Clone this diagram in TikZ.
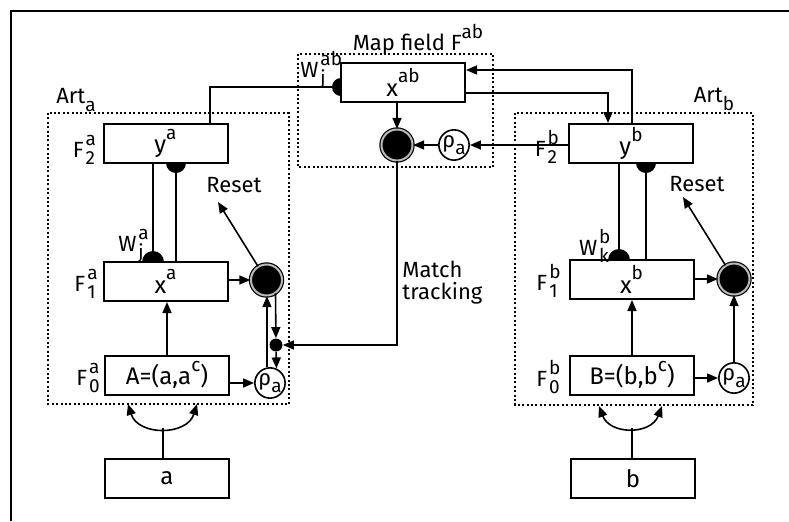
\documentclass[tikz,border=0pt]{standalone}
\usepackage{fontspec}
\setmainfont{Fira Sans}
\usetikzlibrary{arrows.meta}
\usetikzlibrary{positioning}

\newcommand{\up}[1]{\raisebox{1.05ex}{\fontsize{9.5}{9.5}\selectfont #1}}
\newcommand{\dn}[1]{\raisebox{-0.65ex}{\fontsize{9.5}{9.5}\selectfont #1}}
\newcommand{\sps}[3]{#1\hspace{1pt}\makebox[0pt][l]{\up{#2}}\dn{#3}}

\begin{document}
\begin{tikzpicture}[
  x=0.5pt, y=-0.5pt,
  every node/.style={font=\fontsize{11}{11}\selectfont},
  layer/.style={draw, line width=1pt, fill=white, minimum width=62pt, minimum height=19.5pt, inner sep=0pt, font=\fontsize{12}{12}\selectfont},
  orient/.style={circle, draw, line width=0.6pt, double=gray!55, double distance=1pt, fill=black, minimum size=15.5pt, inner sep=0pt},
  vig/.style={circle, draw, line width=0.8pt, fill=white, minimum size=14.5pt, inner sep=0pt},
  junc/.style={circle, fill, minimum size=6.5pt, inner sep=0pt},
  module/.style={draw, line width=1pt, dash pattern=on 1pt off 1.2pt},
  tag/.style={inner sep=0pt},
  title/.style={inner sep=0pt, font=\fontsize{11}{11}\selectfont},
  link/.style={line width=0.8pt},
]
\tikzset{>={Triangle[length=5.5pt, width=4.5pt]}}
\useasboundingbox (0,0) rectangle (789,521);

  % Frame and modules
  \draw[line width=1pt] (11,521) -- (11,11) -- (789,11);
  \draw[module] (48,113) rectangle (289,404);
  \draw[module] (515,113) rectangle (753,405);
  \draw[module] (298,54) rectangle (493,167);

  % Nodes
  \node[layer] (ya)  at (165.5,143.5) {y\up{a}};
  \node[layer] (xa)  at (165.5,281.5) {x\up{a}};
  \node[layer] (Aa)  at (167,375)     {A=(a,a\up{c})};
  \node[layer] (ina) at (167,478.5)   {a};
  \node[layer] (xab) at (403,82.5)    {x\up{ab}};
  \node[layer] (yb)  at (631,143.5)   {y\up{b}};
  \node[layer] (xb)  at (631.5,279.5) {x\up{b}};
  \node[layer] (Bb)  at (632,375)     {B=(b,b\up{c})};
  \node[layer] (inb) at (633,478.5)   {b};

  \node[orient] (oa)   at (266.5,280) {};
  \node[vig]    (ra)   at (270,383)   {ρ\dn{a}};
  \node[junc]   (junc) at (276,345)   {};
  \node[orient] (omap) at (397,145)   {};
  \node[vig]    (rmap) at (454,145)   {ρ\dn{a}};
  \node[orient] (ob)   at (734,279)   {};
  \node[vig]    (rb)   at (734,378)   {ρ\dn{a}};

  \coordinate (wja) at (153,262);
  \coordinate (wya) at (176,163);
  \coordinate (wkb) at (619,260);
  \coordinate (wyb) at (646,163);
  \coordinate (wab) at (341,87);
  \coordinate (rsta) at (218,202);
  \coordinate (rstb) at (683,197);
  \coordinate (splita) at (163,428);
  \coordinate (tipal) at (128,404);
  \coordinate (tipar) at (197,404);
  \coordinate (splitb) at (632,428);
  \coordinate (tipbl) at (599,406);
  \coordinate (tipbr) at (662,406);

  % Labels
  \node[title] at (76,100)  {Art\dn{a}};
  \node[title] at (714,99)  {Art\dn{b}};
  \node[title] at (418,40)  {Map field F\up{ab}};
  \node[tag] at (313,70)  {\sps{W}{ab}{j}};
  \node[tag] at (84,150)  {\sps{F}{a}{2}};
  \node[tag] at (85,284)  {\sps{F}{a}{1}};
  \node[tag] at (88,378)  {\sps{F}{a}{0}};
  \node[tag] at (131,246) {\sps{W}{a}{j}};
  \node[tag] at (546,147) {\sps{F}{b}{2}};
  \node[tag] at (547,281) {\sps{F}{b}{1}};
  \node[tag] at (548,377) {\sps{F}{b}{0}};
  \node[tag] at (594,246) {\sps{W}{b}{k}};
  \node[tag] at (234,185) {Reset};
  \node[tag] at (697,184) {Reset};
  \node[tag, anchor=west, align=left] at (402,283) {Match\\tracking};

  % Edges: Art a
  \draw[link,->] (Aa.north) -- (Aa.north |- xa.south);
  \draw[link,->] (Aa.east |- ra) -- (ra);
  \draw[link,->] (xa.east |- oa) -- (oa);
  \draw[link,->] (ra.101) -- (ra.101 |- oa.south);
  \draw[link,->] (oa.-56) -- (junc);
  \draw[link,->] (junc) -- (ra.66);
  \draw[link,->] (oa) -- (rsta);
  \draw[link] (wja) -- (wja |- ya.south);
  \draw[link] (wya) -- (wya |- xa.north);
  \draw[link] ([xshift=22.25pt]ya.north) |- (wab);

  % Edges: map field
  \draw[link,->] (xab.south -| omap) -- (omap);
  \draw[link,->] (rmap) -- (omap);
  \draw[link,->] (yb.west |- rmap) -- (rmap);
  \draw[link,->] ([xshift=0.5pt]yb.north) |- ([yshift=6.25pt]xab.east);
  \draw[link,->] ([yshift=-5.25pt]xab.east) -| ([xshift=-11.5pt]yb.north);
  \draw[link,->] (omap) |- (junc);

  % Edges: Art b
  \draw[link,->] (Bb.north) -- (Bb.north |- xb.south);
  \draw[link,->] (Bb.east |- rb) -- (rb);
  \draw[link,->] (xb.east |- ob) -- (ob);
  \draw[link,->] (rb) -- (ob);
  \draw[link,->] (ob) -- (rstb);
  \draw[link] (wkb) -- (wkb |- yb.south);
  \draw[link] (wyb) -- (wyb |- xb.north);

  % Weights
  \fill (wja) ++(-5.5pt,0) arc[start angle=180, end angle=0, radius=5.5pt];
  \fill (wya) ++(-5pt,0) arc[start angle=180, end angle=360, radius=5pt];
  \fill (wkb) ++(-5.5pt,0) arc[start angle=180, end angle=0, radius=5.5pt];
  \fill (wyb) ++(-5pt,0) arc[start angle=180, end angle=360, radius=5pt];
  \fill (wab) ++(0,4.5pt) arc[start angle=90, end angle=270, radius=4.5pt];

  % Inputs
  \draw[link] (ina.north -| splita) -- (splita);
  \draw[link,<->] (tipal) .. controls (138,436) and (187,436) .. (tipar);
  \draw[link] (inb.north -| splitb) -- (splitb);
  \draw[link,<->] (tipbl) .. controls (610,435) and (651,435) .. (tipbr);

\end{tikzpicture}
\end{document}
